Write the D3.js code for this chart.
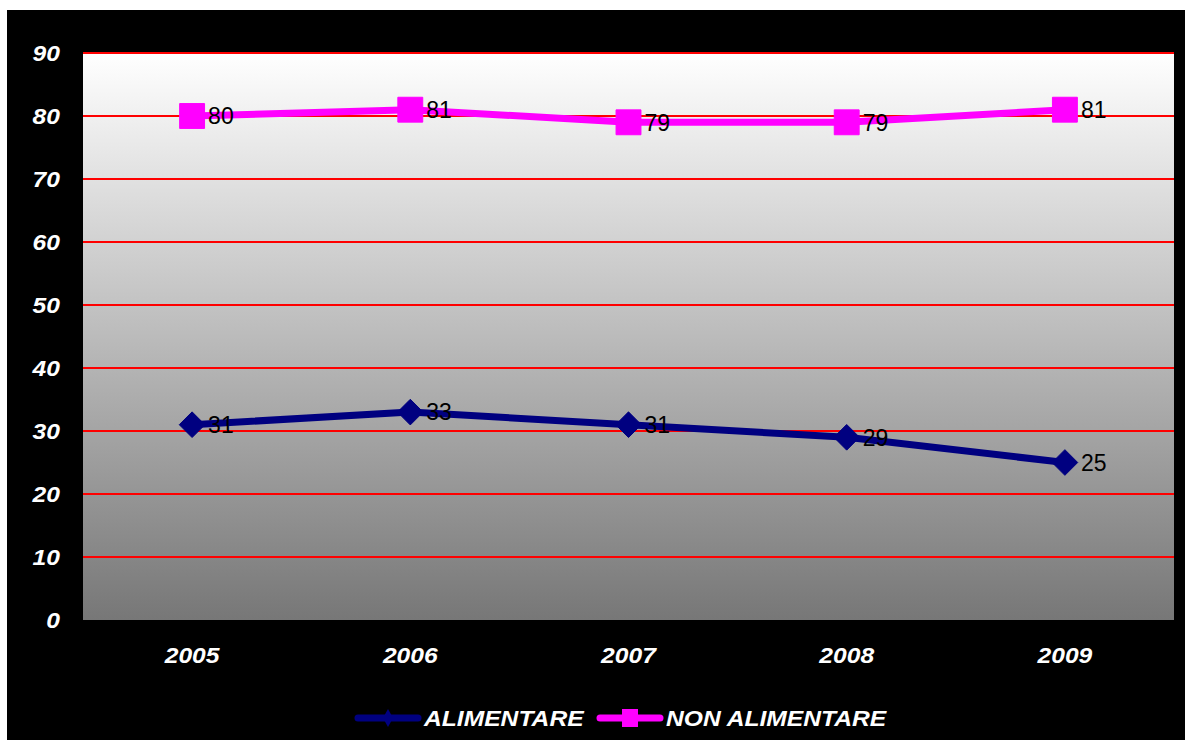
<!DOCTYPE html>
<html>
<head>
<meta charset="utf-8">
<script src="https://cdn.jsdelivr.net/npm/d3@7"></script>
<style>
  html, body { margin: 0; padding: 0; background: #fff; }
  svg { display: block; }
  text { font-family: "Liberation Sans", Arial, sans-serif; }
</style>
</head>
<body>
<svg id="chart" width="1185" height="740"></svg>
<script>
// Years on the category axis
const years = ["2005", "2006", "2007", "2008", "2009"];
// Series values
const alimentare = [31, 33, 31, 29, 25];
const nonAlimentare = [80, 81, 79, 79, 81];
// Value axis ticks
const yTicks = [0, 10, 20, 30, 40, 50, 60, 70, 80, 90];
const seriesNames = ["ALIMENTARE", "NON ALIMENTARE"];

const svg = d3.select("#chart");
const W = 1185, H = 740;
const STRETCH = 1.12; // wide bold-italic label style

// black chart frame
svg.append("rect").attr("x", 7).attr("y", 10).attr("width", W - 7).attr("height", H - 10).attr("fill", "#000");

const plot = { left: 83, right: 1174, top: 53, bottom: 620 };

const x = d3.scaleBand().domain(years).range([plot.left, plot.right]);
const y = d3.scaleLinear().domain([0, 90]).range([plot.bottom, plot.top]);

// plot area gradient
const defs = svg.append("defs");
const grad = defs.append("linearGradient").attr("id", "bg").attr("x1", 0).attr("y1", 0).attr("x2", 0).attr("y2", 1);
grad.append("stop").attr("offset", "0%").attr("stop-color", "#ffffff");
grad.append("stop").attr("offset", "100%").attr("stop-color", "#777777");

svg.append("rect")
  .attr("x", plot.left).attr("y", plot.top)
  .attr("width", plot.right - plot.left).attr("height", plot.bottom - plot.top)
  .attr("fill", "url(#bg)");

// gridlines
svg.append("g").selectAll("line")
  .data(yTicks.filter(d => d > 0))
  .join("line")
  .attr("x1", plot.left).attr("x2", plot.right)
  .attr("y1", d => y(d)).attr("y2", d => y(d))
  .attr("stroke", "#ff0000").attr("stroke-width", 2);

function styleAxisText(sel) {
  sel.attr("fill", "#fff").attr("font-size", 22).attr("font-weight", "bold").attr("font-style", "italic")
    .style("font-family", "'Liberation Sans', Arial, sans-serif")
    .attr("transform", `scale(${STRETCH},1)`);
}

// y axis labels
const yAxis = d3.axisLeft(y).tickValues(yTicks).tickSize(0).tickPadding(23 / STRETCH);
const gy = svg.append("g").attr("transform", `translate(${plot.left},0)`).call(yAxis);
gy.select(".domain").remove();
gy.selectAll("text").call(styleAxisText);

// x axis labels
const xAxis = d3.axisBottom(x).tickSize(0).tickPadding(27);
const gx = svg.append("g").attr("transform", `translate(0,${plot.bottom})`).call(xAxis);
gx.select(".domain").remove();
gx.selectAll("text").call(styleAxisText);

const cx = d => x(d) + x.bandwidth() / 2;
const line = d3.line().x(d => cx(d.year)).y(d => y(d.value));

const diamond = {
  draw(ctx, size) {
    const r = Math.sqrt(size) / 1.35;
    ctx.moveTo(0, -r); ctx.lineTo(r, 0); ctx.lineTo(0, r); ctx.lineTo(-r, 0); ctx.closePath();
  }
};

const series = [
  { name: seriesNames[0], values: alimentare, color: "#000080", symbol: diamond, size: 300 },
  { name: seriesNames[1], values: nonAlimentare, color: "#ff00ff", symbol: d3.symbolSquare, size: 620 }
];

series.forEach(s => {
  const pts = years.map((yr, i) => ({ year: yr, value: s.values[i] }));
  svg.append("path").datum(pts)
    .attr("d", line).attr("fill", "none")
    .attr("stroke", s.color).attr("stroke-width", 7).attr("stroke-linejoin", "round");

  const sym = d3.symbol().type(s.symbol).size(s.size);

  svg.append("g").selectAll("path")
    .data(pts).join("path")
    .attr("transform", d => `translate(${cx(d.year)},${y(d.value)})`)
    .attr("d", sym).attr("fill", s.color)
    .attr("stroke", s.color).attr("stroke-width", 1).attr("stroke-linejoin", "round");

  svg.append("g").selectAll("text")
    .data(pts).join("text")
    .attr("x", d => cx(d.year) + 16).attr("y", d => y(d.value))
    .attr("dy", "0.36em")
    .attr("font-size", 23).attr("fill", "#000")
    .text(d => d.value);
});

// legend
const legend = [
  { name: seriesNames[0], color: "#000080", x0: 358, shape: "diamond" },
  { name: seriesNames[1], color: "#ff00ff", x0: 600, shape: "square" }
];
const ly = 718;
legend.forEach(l => {
  const g = svg.append("g");
  g.append("line").attr("x1", l.x0).attr("x2", l.x0 + 60).attr("y1", ly).attr("y2", ly)
    .attr("stroke", l.color).attr("stroke-width", 7).attr("stroke-linecap", "round");
  const mx = l.x0 + 30;
  if (l.shape === "diamond") {
    g.append("path").attr("d", `M${mx},${ly - 9}L${mx + 5},${ly}L${mx},${ly + 9}L${mx - 5},${ly}Z`).attr("fill", l.color);
  } else {
    g.append("rect").attr("x", mx - 8).attr("y", ly - 9).attr("width", 16).attr("height", 18).attr("fill", l.color);
  }
  g.append("text")
    .attr("transform", `translate(${l.x0 + 66},${ly}) scale(${STRETCH},1)`)
    .attr("dy", "0.36em")
    .attr("font-size", 22).attr("font-weight", "bold").attr("font-style", "italic").attr("fill", "#fff")
    .text(l.name);
});
</script>
</body>
</html>
